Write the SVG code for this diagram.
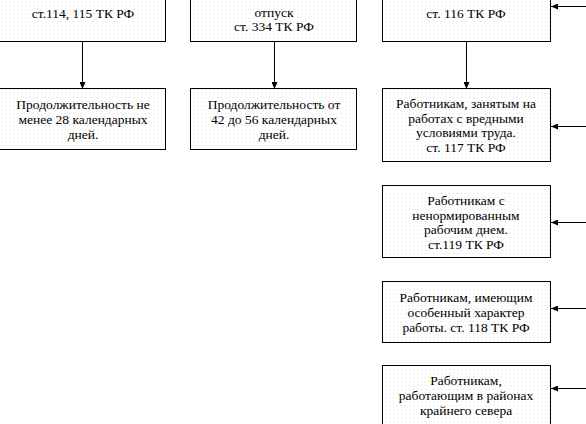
<svg xmlns="http://www.w3.org/2000/svg" width="586" height="424" viewBox="0 0 586 424">
<style>
.box{fill:url(#dots);stroke:#000;stroke-width:1}
.t{font-family:"Liberation Serif","Times New Roman",serif;font-size:13.5px;fill:#000;text-anchor:middle}
.c{stroke:#000;stroke-width:1;fill:none}
</style>
<defs>
<pattern id="dots" width="4" height="4" patternUnits="userSpaceOnUse">
<rect width="4" height="4" fill="#fff"/>
<rect x="1" y="1" width="1" height="1" fill="#e2e2e2"/>
</pattern>
<marker id="ah" markerWidth="7" markerHeight="6" refX="7" refY="3" orient="auto" markerUnits="userSpaceOnUse">
<path d="M0,0 L7,3 L0,6 Z" fill="#000"/>
</marker>
</defs>
<rect width="586" height="424" fill="#fff"/>
<g id="connectors">
<line class="c" x1="82.5" y1="42" x2="82.5" y2="89" marker-end="url(#ah)"/>
<line class="c" x1="274.5" y1="42" x2="274.5" y2="89" marker-end="url(#ah)"/>
<line class="c" x1="466.5" y1="42" x2="466.5" y2="89" marker-end="url(#ah)"/>
<line class="c" x1="586" y1="6.5" x2="551" y2="6.5" marker-end="url(#ah)"/>
<line class="c" x1="586" y1="126.5" x2="551" y2="126.5" marker-end="url(#ah)"/>
<line class="c" x1="586" y1="222.5" x2="551" y2="222.5" marker-end="url(#ah)"/>
<line class="c" x1="586" y1="308.5" x2="551" y2="308.5" marker-end="url(#ah)"/>
<line class="c" x1="586" y1="388.5" x2="551" y2="388.5" marker-end="url(#ah)"/>
</g>
<g id="n1">
<rect class="box" x="-1.5" y="-10.5" width="167" height="52"/>
<text class="t" x="83" y="18">ст.114, 115 ТК РФ</text>
</g>
<g id="n2">
<rect class="box" x="190.5" y="-10.5" width="166" height="52"/>
<text class="t" x="274" y="17">отпуск</text>
<text class="t" x="274" y="31">ст. 334 ТК РФ</text>
</g>
<g id="n3">
<rect class="box" x="382.5" y="-10.5" width="168" height="52"/>
<text class="t" x="466" y="18">ст. 116 ТК РФ</text>
</g>
<g id="n4">
<rect class="box" x="-0.5" y="88.5" width="166" height="61"/>
<text class="t" x="83" y="109">Продолжительность не</text>
<text class="t" x="83" y="124">менее 28 календарных</text>
<text class="t" x="83" y="139">дней.</text>
</g>
<g id="n5">
<rect class="box" x="190.5" y="88.5" width="166" height="61"/>
<text class="t" x="274" y="109">Продолжительность от</text>
<text class="t" x="274" y="124">42 до 56 календарных</text>
<text class="t" x="274" y="139">дней.</text>
</g>
<g id="n6">
<rect class="box" x="382.5" y="88.5" width="168" height="73"/>
<text class="t" x="466" y="108">Работникам, занятым на</text>
<text class="t" x="466" y="123">работах с вредными</text>
<text class="t" x="466" y="137">условиями труда.</text>
<text class="t" x="466" y="152">ст. 117 ТК РФ</text>
</g>
<g id="n7">
<rect class="box" x="382.5" y="185.5" width="168" height="72"/>
<text class="t" x="466" y="205">Работникам с</text>
<text class="t" x="466" y="220">ненормированным</text>
<text class="t" x="466" y="234">рабочим днем.</text>
<text class="t" x="466" y="249">ст.119 ТК РФ</text>
</g>
<g id="n8">
<rect class="box" x="382.5" y="281.5" width="168" height="61"/>
<text class="t" x="466" y="302">Работникам, имеющим</text>
<text class="t" x="466" y="317">особенный характер</text>
<text class="t" x="466" y="332">работы. ст. 118 ТК РФ</text>
</g>
<g id="n9">
<rect class="box" x="382.5" y="365.5" width="168" height="70"/>
<text class="t" x="466" y="385">Работникам,</text>
<text class="t" x="466" y="400">работающим в районах</text>
<text class="t" x="466" y="415">крайнего севера</text>
</g>
</svg>
